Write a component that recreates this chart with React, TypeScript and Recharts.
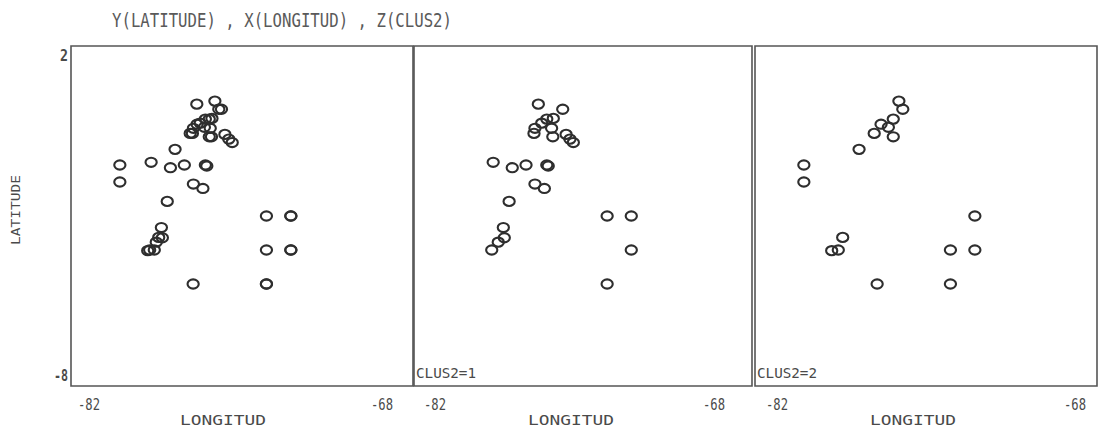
import React from 'react';
import { ScatterChart, Scatter, XAxis, YAxis, ReferenceArea } from 'recharts';

// ---- data ----
const clus1Lon = [-76.85, -75.84, -76.23, -76.5, -76.71, -76.99, -77.03, -76.3, -76.25, -75.7, -75.54, -75.4, -78.72, -77.93, -77.36, -76.5, -76.44, -76.99, -76.6, -78.06, -74.0, -73.0, -78.3, -78.26, -78.51, -78.78, -73.0, -74.0];
const clus1Lat = [0.29, 0.14, -0.13, -0.15, -0.27, -0.42, -0.57, -0.42, -0.67, -0.6, -0.74, -0.84, -1.42, -1.58, -1.5, -1.5, -1.53, -2.06, -2.19, -2.57, -3.0, -3.0, -3.34, -3.64, -3.77, -4.0, -4.0, -5.0];
const clus2Lon = [-76.11, -75.95, -76.34, -76.84, -77.12, -76.54, -76.34, -77.74, -80.0, -80.0, -73.0, -78.41, -78.86, -78.59, -74.0, -73.0, -77.0, -74.0];
const clus2Lat = [0.38, 0.14, -0.15, -0.3, -0.57, -0.39, -0.67, -1.04, -1.5, -2.0, -3.0, -3.63, -4.02, -4.0, -4.0, -4.0, -5.0, -5.0];

const xTicks = [-82, -68];
const yTicks = [-8, 2];
const xDomain: [number, number] = [-82, -68];
const yDomain: [number, number] = [-8, 2];
const titleText = 'Y(LATITUDE) , X(LONGITUD) , Z(CLUS2)';
const xLabel = 'LONGITUD';
const yLabel = 'LATITUDE';
const panelLabels = ['', 'CLUS2=1', 'CLUS2=2'];

const toPoints = (lon: number[], lat: number[]) => lon.map((v, i) => ({ lon: v, lat: lat[i] }));
const clus1 = toPoints(clus1Lon, clus1Lat);
const clus2 = toPoints(clus2Lon, clus2Lat);
const allPoints = [...clus1, ...clus2];

// ---- layout ----
const W = 1106;
const H = 436;
const TOP = 46;
const BOTTOM = 386;
const XAX_H = 30;
const YAX_W = 30;
const panels = [
  { left: 71, right: 413, data: allPoints, xOff: [18, -31], labelOff: -19 },
  { left: 414, right: 752, data: clus1, xOff: [21, -38], labelOff: -12 },
  { left: 755, right: 1097, data: clus2, xOff: [22, -22], labelOff: -13 },
];

const FONT = '"DejaVu Sans Mono", "Liberation Mono", monospace';
const INK = '#4a4a4a';

const Ring = (props: any) => {
  const { cx, cy } = props;
  if (cx == null || cy == null) return null;
  return <ellipse cx={cx} cy={cy} rx={5.6} ry={4.6} fill="none" stroke="#2e2e2e" strokeWidth={2.1} />;
};

const makeXTick = (off: number[]) => (props: any) => {
  const { x, payload } = props;
  const dx = payload.value === -82 ? off[0] : off[1];
  return (
    <text x={x + dx} y={BOTTOM + 19} textAnchor="middle" dominantBaseline="central" fontFamily={FONT} fontSize={15} fill={INK} textLength={22} lengthAdjust="spacingAndGlyphs">
      {payload.value}
    </text>
  );
};

const YTick = (props: any) => {
  const { y, payload } = props;
  const dy = payload.value === 2 ? 10 : -10;
  const len = payload.value === 2 ? 8 : 14;
  return (
    <text x={68} y={y + dy} textAnchor="end" dominantBaseline="central" fontFamily={FONT} fontSize={15} fontWeight="bold" fill={INK} textLength={len} lengthAdjust="spacingAndGlyphs">
      {payload.value}
    </text>
  );
};

export default function App() {
  return (
    <div style={{ position: 'absolute', left: 0, top: 0, width: W, height: H, background: '#fff', overflow: 'hidden' }}>
      {panels.map((p, i) => (
        <div key={i} style={{ position: 'absolute', left: 0, top: 0 }}>
          <ScatterChart width={W} height={H} margin={{ top: TOP, bottom: H - BOTTOM - XAX_H, left: p.left - YAX_W, right: W - p.right }}>
            <XAxis
              type="number"
              dataKey="lon"
              domain={xDomain}
              ticks={xTicks}
              interval={0}
              height={XAX_H}
              axisLine={false}
              tickLine={false}
              tick={makeXTick(p.xOff)}
              allowDataOverflow
            />
            <YAxis
              type="number"
              dataKey="lat"
              domain={yDomain}
              ticks={yTicks}
              interval={0}
              width={YAX_W}
              axisLine={false}
              tickLine={false}
              tick={i === 0 ? YTick : false}
              allowDataOverflow
            />
            <ReferenceArea x1={-82} x2={-68} y1={-8} y2={2} fill="none" stroke="#555" strokeWidth={1.6} ifOverflow="visible" />
            <Scatter data={p.data} shape={Ring} isAnimationActive={false} />
          </ScatterChart>
        </div>
      ))}
      <svg width={W} height={H} style={{ position: 'absolute', left: 0, top: 0, pointerEvents: 'none' }}>
        <text x={112} y={20} dominantBaseline="central" fontFamily={FONT} fontSize={19} fill="#5a5a5a" textLength={340} lengthAdjust="spacingAndGlyphs">
          {titleText}
        </text>
        <text x={15} y={210} textAnchor="middle" dominantBaseline="central" fontFamily={FONT} fontSize={13} fill={INK} transform="rotate(-90 15 210)" textLength={70} lengthAdjust="spacingAndGlyphs">
          {yLabel}
        </text>
        {panels.map((p, i) => (
          <g key={i}>
            <text x={(p.left + p.right) / 2 + p.labelOff} y={420} textAnchor="middle" dominantBaseline="central" fontFamily={FONT} fontSize={14} fill={INK} textLength={86} lengthAdjust="spacingAndGlyphs">
              {xLabel}
            </text>
            {panelLabels[i] ? (
              <text x={p.left + 2} y={373} dominantBaseline="central" fontFamily={FONT} fontSize={14} fill={INK} textLength={60} lengthAdjust="spacingAndGlyphs">
                {panelLabels[i]}
              </text>
            ) : null}
          </g>
        ))}
      </svg>
    </div>
  );
}
